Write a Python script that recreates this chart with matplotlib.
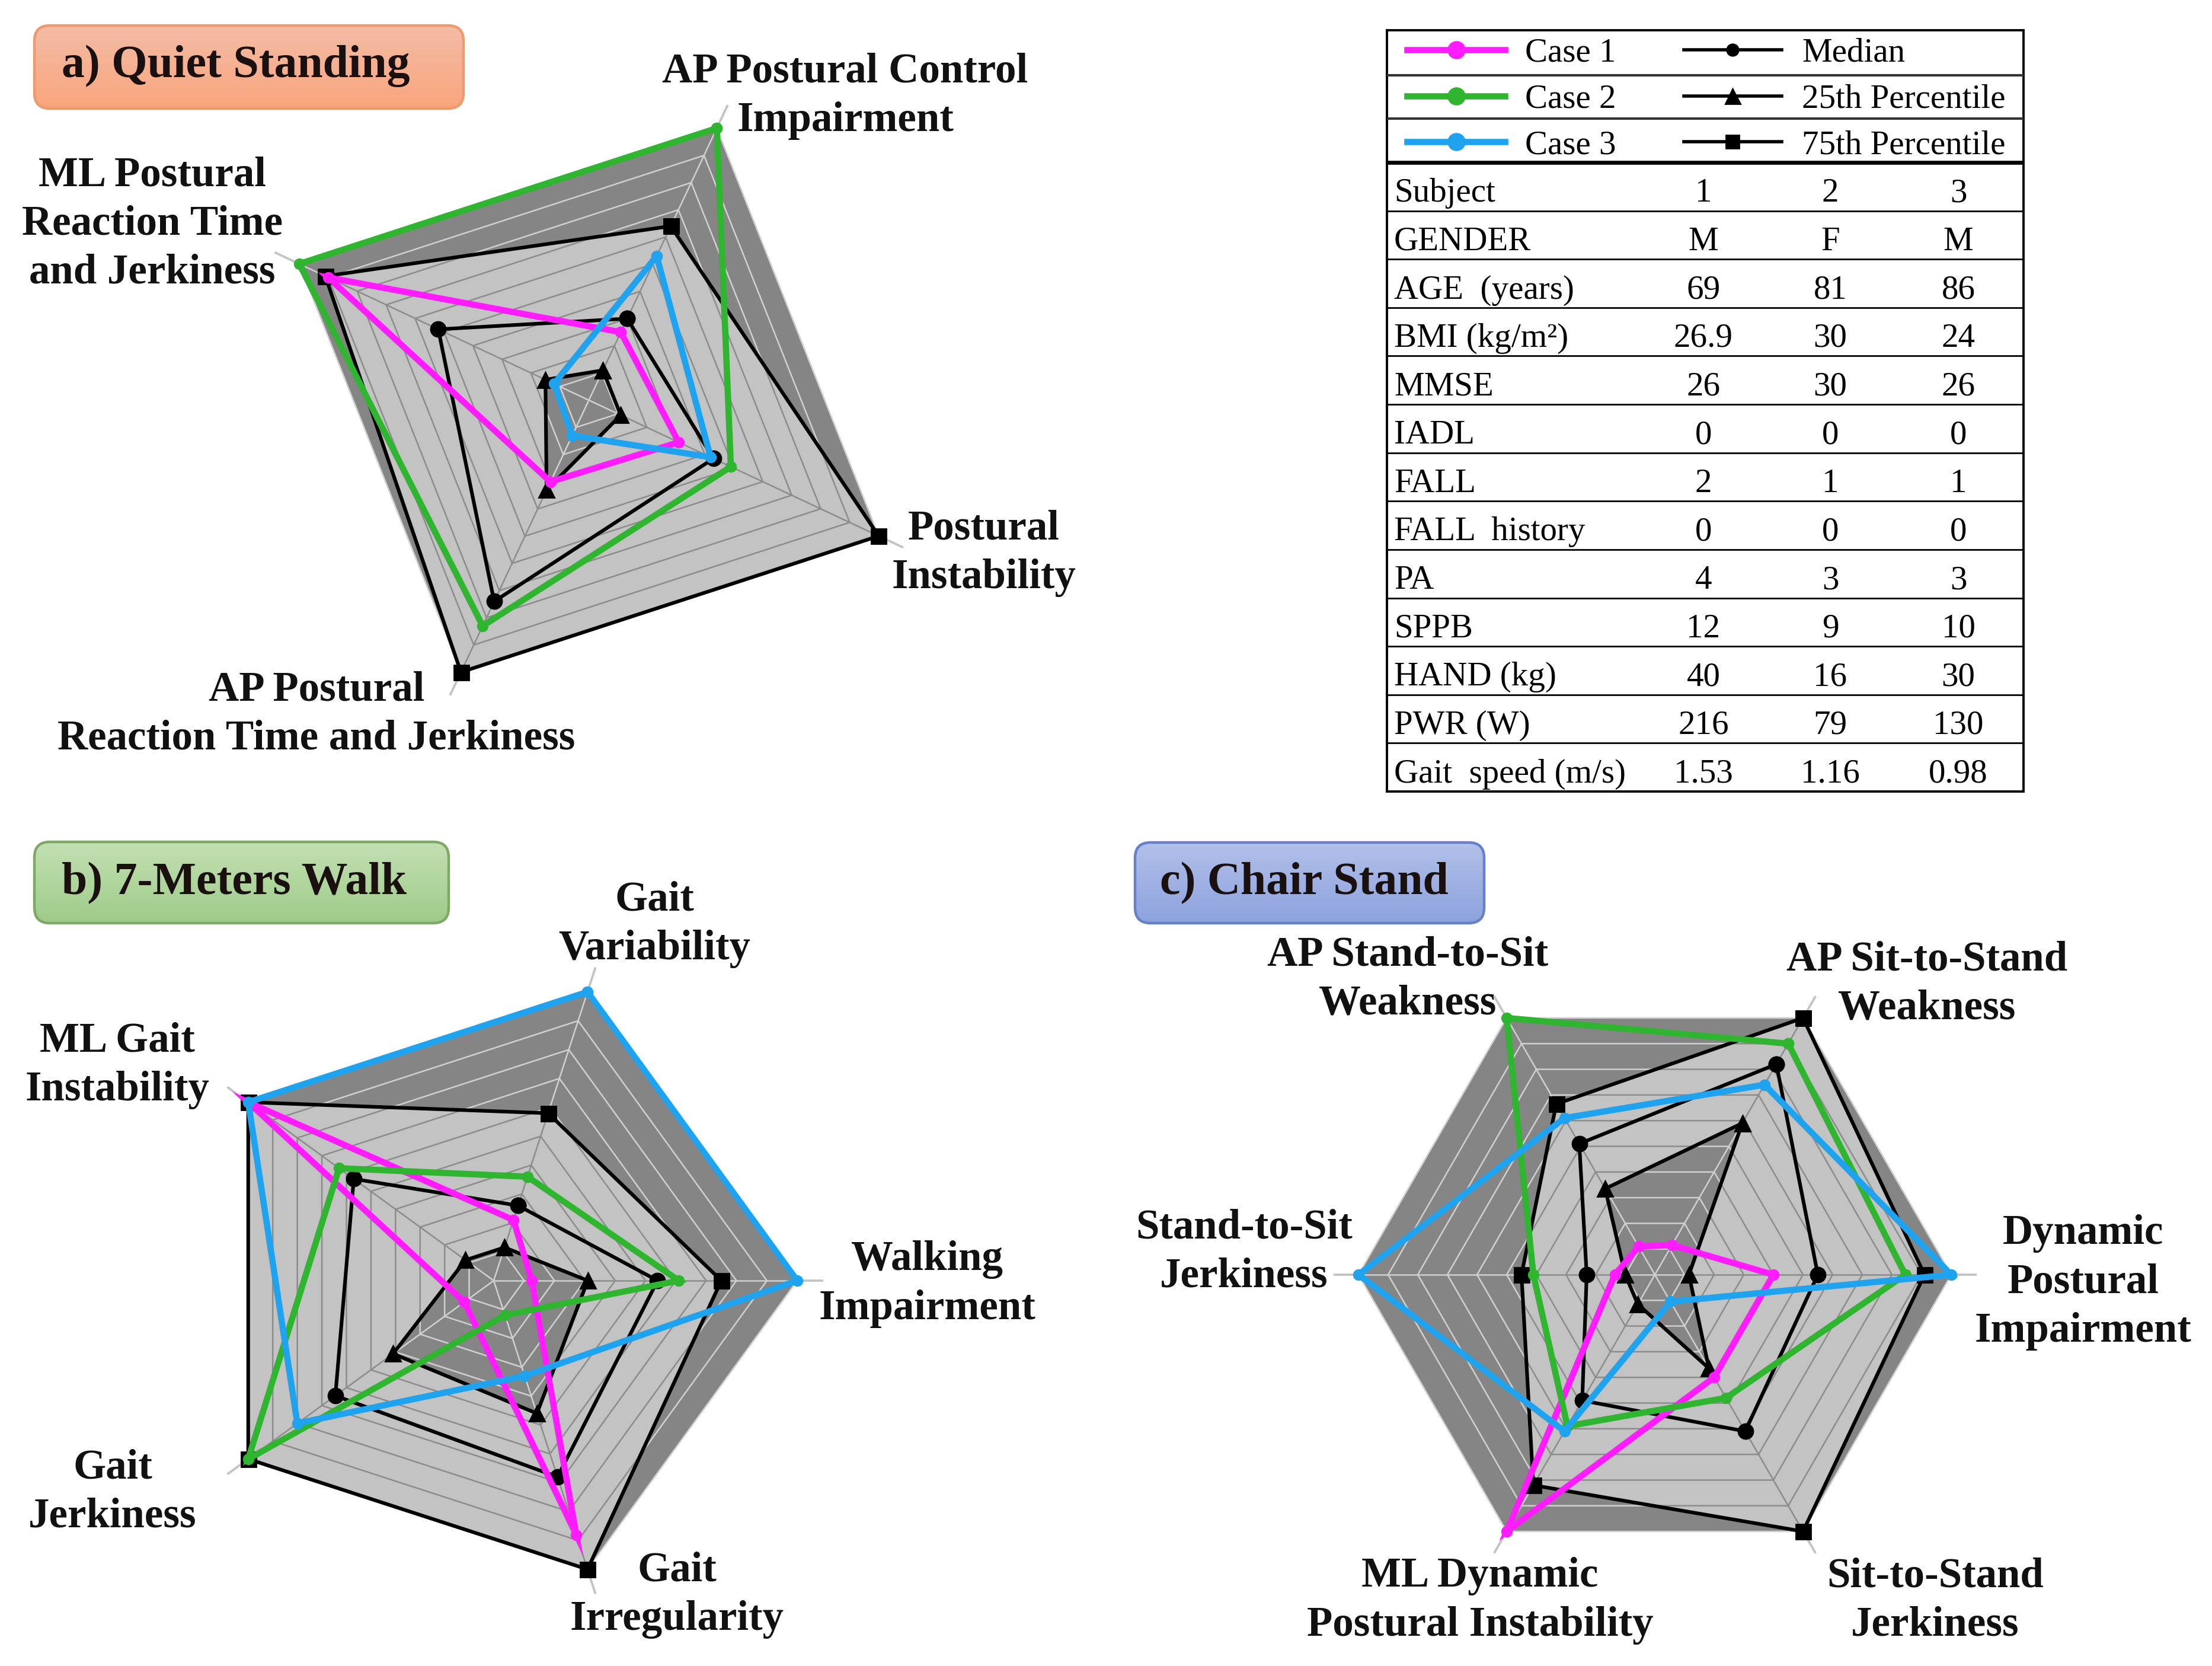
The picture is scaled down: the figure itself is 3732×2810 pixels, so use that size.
import numpy as np
import matplotlib
matplotlib.use("Agg")
import matplotlib.pyplot as plt
from matplotlib.patches import Polygon, FancyBboxPatch, Rectangle
from matplotlib.collections import LineCollection
from matplotlib.colors import LinearSegmentedColormap
from matplotlib.lines import Line2D

# ---------------- data ----------------
# a) Quiet Standing (values on a 0-10 scale, 10 = outer ring)
qs_labels = ["AP Postural Control\nImpairment", "Postural\nInstability",
             "AP Postural\nReaction Time and Jerkiness",
             "ML Postural\nReaction Time\nand Jerkiness"]
qs_case1 = [2.5, 3.1, 3.0, 9.0]
qs_case2 = [10.0, 4.9, 8.3, 10.0]
qs_case3 = [5.3, 4.2, 1.3, 1.2]
qs_median = [3.0, 4.3, 7.4, 5.2]
qs_p25 = [1.1, 1.1, 3.3, 1.5]
qs_p75 = [6.4, 10.0, 10.0, 9.1]

# b) 7-Meters Walk
walk_labels = ["Gait\nVariability", "Walking\nImpairment", "Gait\nIrregularity",
               "Gait\nJerkiness", "ML Gait\nInstability"]
walk_case1 = [2.1, 1.25, 8.8, 1.2, 10.0]
walk_case2 = [3.6, 6.1, 1.2, 10.0, 6.3]
walk_case3 = [10.0, 10.0, 3.3, 8.0, 10.0]
walk_median = [2.6, 5.4, 6.8, 6.45, 5.7]
walk_p25 = [1.15, 3.1, 4.6, 4.1, 1.15]
walk_p75 = [5.8, 7.5, 10.0, 10.0, 10.0]

# c) Chair Stand
chair_labels = ["AP Sit-to-Stand\nWeakness", "Dynamic\nPostural\nImpairment",
                "Sit-to-Stand\nJerkiness", "ML Dynamic\nPostural Instability",
                "Stand-to-Sit\nJerkiness", "AP Stand-to-Sit\nWeakness"]
chair_case1 = [1.15, 4.0, 4.0, 10.0, 1.35, 1.1]
chair_case2 = [9.0, 8.45, 4.8, 5.9, 4.1, 10.0]
chair_case3 = [7.4, 10.0, 1.05, 6.1, 10.0, 6.1]
chair_median = [8.2, 5.5, 6.1, 4.9, 2.3, 5.1]
chair_p25 = [5.9, 1.15, 3.65, 1.15, 1.0, 3.35]
chair_p75 = [10.0, 9.1, 10.0, 8.2, 4.5, 6.65]

# table
legend_labels = ["Case 1", "Case 2", "Case 3", "Median", "25th Percentile", "75th Percentile"]
table_rows = ["Subject", "GENDER", "AGE  (years)", "BMI (kg/m\u00b2)", "MMSE", "IADL", "FALL",
              "FALL  history", "PA", "SPPB", "HAND (kg)", "PWR (W)", "Gait  speed (m/s)"]
table_s1 = ["1", "M", "69", "26.9", "26", "0", "2", "0", "4", "12", "40", "216", "1.53"]
table_s2 = ["2", "F", "81", "30", "30", "0", "1", "0", "3", "9", "16", "79", "1.16"]
table_s3 = ["3", "M", "86", "24", "26", "0", "1", "0", "3", "10", "30", "130", "0.98"]

# ---------------- style / layout ----------------
W, H, DPI = 3732, 2810, 200
MAG, GRN, BLU = "#ff1cff", "#2fb52f", "#1fa3ee"
DARK, LIGHT = "#858585", "#c3c3c3"
GRID_ON_DARK, GRID_ON_LIGHT = "#d0d0d0", "#8c8c8c"
LABEL_FS = 25.5
TABLE_FS = 20.5

plt.rcParams["font.family"] = ["Liberation Serif", "DejaVu Serif"]
fig = plt.figure(figsize=(W / DPI, H / DPI), dpi=DPI)
fig.patch.set_facecolor("white")

ax0 = fig.add_axes([0, 0, 1, 1])
ax0.set_xlim(0, W)
ax0.set_ylim(H, 0)
ax0.axis("off")


def title_box(x0, y0, x1, y1, text, top, bottom, edge, tx, ty):
    patch = FancyBboxPatch((x0, y0), x1 - x0, y1 - y0,
                           boxstyle="round,pad=0,rounding_size=26",
                           fc="none", ec=edge, lw=1.6, zorder=3)
    ax0.add_patch(patch)
    cmap = LinearSegmentedColormap.from_list("g", [top, bottom])
    grad = np.linspace(0, 1, 256).reshape(-1, 1)
    im = ax0.imshow(grad, cmap=cmap, extent=(x0, x1, y1, y0), aspect="auto",
                    zorder=2, interpolation="bilinear")
    im.set_clip_path(patch)
    ax0.text(tx, ty, text, fontsize=28, fontweight="bold", ha="left",
             va="baseline", color="#1a1010", zorder=4)


title_box(58, 43, 782, 183, "a) Quiet Standing", "#f3bca6", "#f9a57c", "#ee9a6c", 104, 130)
title_box(58, 1420, 757, 1557, "b) 7-Meters Walk", "#c4e0b4", "#9dcb88", "#7fa868", 104, 1508)
title_box(1915, 1421, 2504, 1557, "c) Chair Stand", "#b2c0ea", "#8ca2dc", "#6680cc", 1957, 1508)
ax0.set_xlim(0, W)
ax0.set_ylim(H, 0)


def radar(cx, cy, R, angles, mult, labels, label_pos,
          c1, c2, c3, med, p25, p75, half=720):
    ax = fig.add_axes([(cx - half) / W, 1 - (cy + half) / H, 2 * half / W, 2 * half / H])
    lim = half / R * 10
    ax.set_xlim(-lim, lim)
    ax.set_ylim(-lim, lim)
    ax.axis("off")
    th = np.deg2rad(np.asarray(angles, float))
    m = np.asarray(mult, float)
    ux, uy = m * np.cos(th), m * np.sin(th)
    n = len(th)

    def poly(vals):
        v = np.asarray(vals, float)
        return np.column_stack([v * ux, v * uy])

    def closed(vals):
        p = poly(vals)
        return np.vstack([p, p[:1]])

    rings = [closed([k] * n) for k in range(1, 11)]
    spokes = [np.array([[0, 0], [10 * ux[i], 10 * uy[i]]]) for i in range(n)]
    grid = rings + spokes
    ext = [np.array([[10 * ux[i], 10 * uy[i]], [10.85 * ux[i], 10.85 * uy[i]]]) for i in range(n)]

    ax.add_patch(Polygon(poly([10] * n), closed=True, fc=DARK, ec="none", zorder=1))
    ax.add_collection(LineCollection(grid, colors=GRID_ON_DARK, linewidths=0.9, zorder=2))
    ax.add_collection(LineCollection(ext, colors="#c4c4c4", linewidths=1.4, zorder=2))

    p75patch = Polygon(poly(p75), closed=True, fc=LIGHT, ec="none", zorder=3)
    ax.add_patch(p75patch)
    lc = LineCollection(grid, colors=GRID_ON_LIGHT, linewidths=0.9, zorder=4)
    ax.add_collection(lc)
    lc.set_clip_path(p75patch)

    p25patch = Polygon(poly(p25), closed=True, fc=DARK, ec="none", zorder=5)
    ax.add_patch(p25patch)
    lc2 = LineCollection(grid, colors=GRID_ON_DARK, linewidths=0.9, zorder=6)
    ax.add_collection(lc2)
    lc2.set_clip_path(p25patch)

    for vals, mk, ms in [(p75, "s", 9), (med, "o", 9), (p25, "^", 9.5)]:
        c = closed(vals)
        ax.plot(c[:, 0], c[:, 1], color="black", lw=2.2, marker=mk, ms=ms, zorder=7)
    for vals, col in [(c1, MAG), (c2, GRN), (c3, BLU)]:
        c = closed(vals)
        ax.plot(c[:, 0], c[:, 1], color=col, lw=3.8, marker="o", ms=6,
                solid_joinstyle="miter", zorder=8)

    for lab, (lx, ly) in zip(labels, label_pos):
        ax0.text(lx, ly, lab, fontsize=LABEL_FS, fontweight="bold", ha="center",
                 va="center", multialignment="center", linespacing=1.35, color="#111111")
    return ax


radar(993.5, 675, 507, [64.8, -25.1, -115.2, 154.8], [1, 1.065, 1, 1.065],
      qs_labels, [(1426, 162), (1660, 933), (534, 1205), (257, 378)],
      qs_case1, qs_case2, qs_case3, qs_median, qs_p25, qs_p75)

radar(833, 2160, 512, [72, 0, -72, -144, 144], [1] * 5,
      walk_labels, [(1104, 1559), (1564, 2166), (1142, 2690), (190, 2517), (198, 1797)],
      walk_case1, walk_case2, walk_case3, walk_median, walk_p25, walk_p75)

radar(2792, 2150, 500, [60, 0, -60, -120, 180, 120], [1] * 6,
      chair_labels, [(3251, 1660), (3515, 2163), (3265, 2700), (2497, 2700),
                     (2099, 2112), (2375, 1652)],
      chair_case1, chair_case2, chair_case3, chair_median, chair_p25, chair_p75)

# ---------------- table ----------------
TX0, TX1, TY0, TY1 = 2340, 3414, 51, 1335
LEG_LINES = [127, 200]
DATA_Y0 = 274
ROW_H = (TY1 - DATA_Y0) / len(table_rows)
COL_X = [2874, 3088, 3304]

ax0.add_patch(Rectangle((TX0, TY0), TX1 - TX0, TY1 - TY0, fc="none", ec="black", lw=1.4, zorder=5))
ax0.hlines(LEG_LINES, TX0, TX1, colors="#333333", lw=1.5, zorder=5)
ax0.hlines([DATA_Y0], TX0, TX1, colors="black", lw=2.4, zorder=5)
ax0.hlines([DATA_Y0 + ROW_H * k for k in range(1, len(table_rows))], TX0, TX1,
           colors="black", lw=1.0, zorder=5)

for i, lab in enumerate(table_rows):
    yb = DATA_Y0 + ROW_H * i + 0.81 * ROW_H
    ax0.text(2352, yb, lab, fontsize=TABLE_FS, ha="left", va="baseline", zorder=6)
    for x, col in zip(COL_X, (table_s1, table_s2, table_s3)):
        ax0.text(x, yb, col[i], fontsize=TABLE_FS, ha="center", va="baseline", zorder=6)

handles = [Line2D([0], [0], color=MAG, lw=3.8, marker="o", ms=10),
           Line2D([0], [0], color=GRN, lw=3.8, marker="o", ms=10),
           Line2D([0], [0], color=BLU, lw=3.8, marker="o", ms=10),
           Line2D([0], [0], color="black", lw=2.0, marker="o", ms=7),
           Line2D([0], [0], color="black", lw=2.0, marker="^", ms=9),
           Line2D([0], [0], color="black", lw=2.0, marker="s", ms=8)]
fig.legend(handles, legend_labels, ncol=2, loc="upper left",
           bbox_to_anchor=(2374 / W, 1 - 64 / H), frameon=False, fontsize=TABLE_FS,
           handlelength=2.9, handletextpad=0.6, columnspacing=2.0, labelspacing=0.45,
           borderpad=0, borderaxespad=0)

fig.savefig("out.png", dpi=DPI, facecolor="white")
